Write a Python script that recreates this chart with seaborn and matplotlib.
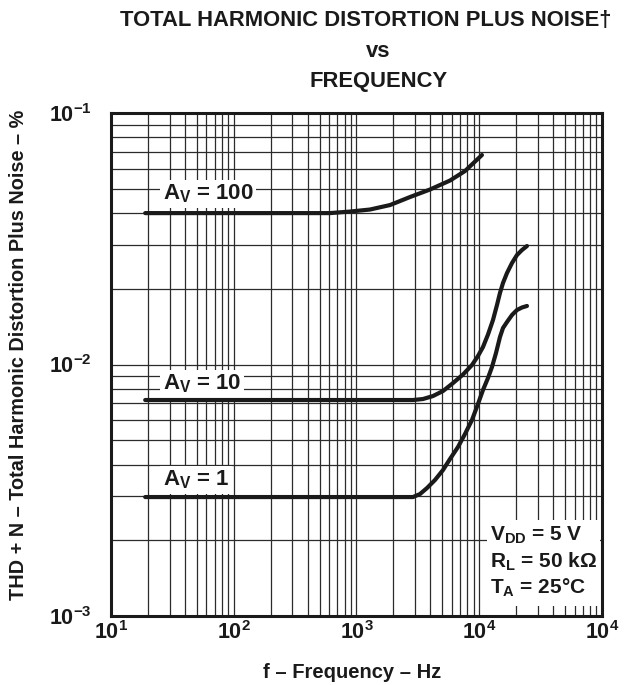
import matplotlib
matplotlib.use("Agg")
import matplotlib.pyplot as plt
import matplotlib.ticker as mticker
from matplotlib.patches import Rectangle
import seaborn as sns

# values (frequency in Hz, THD+N in %)
freq_av100 = [19, 366, 608, 885, 1288, 1875, 2728, 3970, 5780, 7660, 10520]
thd_av100 = [0.0400, 0.0400, 0.0400, 0.04057, 0.04133, 0.04306, 0.04634, 0.04964,
             0.0539, 0.0588, 0.06808]

freq_av10 = [19, 2886, 3482, 4201, 5068, 6113, 7373, 8728, 9768, 10728, 11785, 12942,
             13951, 14757, 15614, 16831, 18488, 20303, 22300, 24490]
thd_av10 = [0.007225, 0.007225, 0.007292, 0.007494, 0.007845, 0.008438, 0.009125,
            0.009954, 0.010809, 0.011737, 0.013158, 0.015026, 0.01724, 0.019248,
            0.021088, 0.023105, 0.025329, 0.027254, 0.028528, 0.029592]

freq_av1 = [19, 2886, 3291, 3752, 4360, 5068, 5777, 6713, 7655, 8728, 9768, 10728,
            11785, 12703, 13694, 14757, 15614, 16831, 18488, 20303, 22300, 24490]
thd_av1 = [0.002972, 0.002972, 0.003055, 0.003227, 0.003474, 0.003806, 0.00421,
           0.004699, 0.005294, 0.006017, 0.006966, 0.007918, 0.008839, 0.009774,
           0.011109, 0.01286, 0.013967, 0.014757, 0.015737, 0.016474, 0.016857, 0.017093]

x_ticks = [1e1, 1e2, 1e3, 1e4, 1e5]
x_tick_labels = [r"$10^{1}$", r"$10^{2}$", r"$10^{3}$", r"$10^{4}$", r"$10^{4}$"]
y_ticks = [1e-3, 1e-2, 1e-1]
y_tick_labels = [r"$10^{-3}$", r"$10^{-2}$", r"$10^{-1}$"]

sns.set_style("white")
plt.rcParams["font.family"] = ["Liberation Sans", "DejaVu Sans"]
plt.rcParams["font.weight"] = "bold"
plt.rcParams["mathtext.fontset"] = "custom"
plt.rcParams["mathtext.rm"] = "Liberation Sans:bold"
plt.rcParams["mathtext.bf"] = "Liberation Sans:bold"
plt.rcParams["mathtext.it"] = "Liberation Sans:bold"
plt.rcParams["mathtext.default"] = "bf"

ink = "#1a1a1a"

fig = plt.figure(figsize=(6.43, 6.85), dpi=100)
ax = fig.add_axes([0.1726, 0.1007, 0.7636, 0.7343])

for f, t in [(freq_av100, thd_av100), (freq_av10, thd_av10), (freq_av1, thd_av1)]:
    sns.lineplot(x=f, y=t, ax=ax, color=ink, lw=3, zorder=3)

ax.set_xscale("log")
ax.set_yscale("log")
ax.set_xlim(1e1, 1e5)
ax.set_ylim(1e-3, 1e-1)

ax.set_xticks(x_ticks)
ax.set_xticklabels(x_tick_labels)
ax.set_yticks(y_ticks)
ax.set_yticklabels(y_tick_labels)
ax.xaxis.set_minor_locator(mticker.LogLocator(base=10, subs=range(2, 10)))
ax.yaxis.set_minor_locator(mticker.LogLocator(base=10, subs=range(2, 10)))
ax.xaxis.set_minor_formatter(mticker.NullFormatter())
ax.yaxis.set_minor_formatter(mticker.NullFormatter())
ax.tick_params(which="both", length=0)
ax.tick_params(axis="x", labelsize=15.5, pad=4, colors=ink)
ax.tick_params(axis="y", labelsize=15.5, pad=14, colors=ink)

ax.grid(which="both", color="#2b2b2b", lw=0.9)
for s in ax.spines.values():
    s.set_linewidth(2.2)
    s.set_color(ink)

ax.set_xlabel("f – Frequency – Hz", fontsize=14.5, fontweight="bold", color=ink)
ax.xaxis.set_label_coords(0.491, -0.093)
ax.set_ylabel("THD + N – Total Harmonic Distortion Plus Noise – %", fontsize=14.3,
              fontweight="bold", color=ink)
ax.yaxis.set_label_coords(-0.168, 0.52)

label_box = dict(fc="white", ec="none", pad=2)
ax.text(26.5, 0.0478, r"A$_{V}$ = 100", fontsize=16, fontweight="bold", color=ink,
        va="center", ha="left", bbox=label_box, zorder=2)
ax.text(26.5, 0.0084, r"A$_{V}$ = 10", fontsize=16, fontweight="bold", color=ink,
        va="center", ha="left", bbox=label_box, zorder=2)
ax.text(26.5, 0.00348, r"A$_{V}$ = 1", fontsize=16, fontweight="bold", color=ink,
        va="center", ha="left", bbox=label_box, zorder=2)

ax.add_patch(Rectangle((0.766, 0.02), 0.23, 0.171, transform=ax.transAxes,
                       fc="white", ec="none", zorder=2))
for yy, s in [(0.161, r"V$_{DD}$ = 5 V"), (0.107, r"R$_{L}$ = 50 k$\Omega$"),
              (0.056, r"T$_{A}$ = 25°C")]:
    ax.text(0.772, yy, s, transform=ax.transAxes, fontsize=15, fontweight="bold",
            color=ink, va="center", ha="left", zorder=4)

fig.text(0.569, 1 - 26 / 685, "TOTAL HARMONIC DISTORTION PLUS NOISE†", fontsize=15.8,
         fontweight="bold", color=ink, ha="center", va="baseline")
fig.text(0.588, 1 - 57 / 685, "vs", fontsize=15.8, fontweight="bold", color=ink,
         ha="center", va="baseline")
fig.text(0.588, 1 - 87 / 685, "FREQUENCY", fontsize=15.8, fontweight="bold", color=ink,
         ha="center", va="baseline")

fig.savefig("out.png", dpi=100)
